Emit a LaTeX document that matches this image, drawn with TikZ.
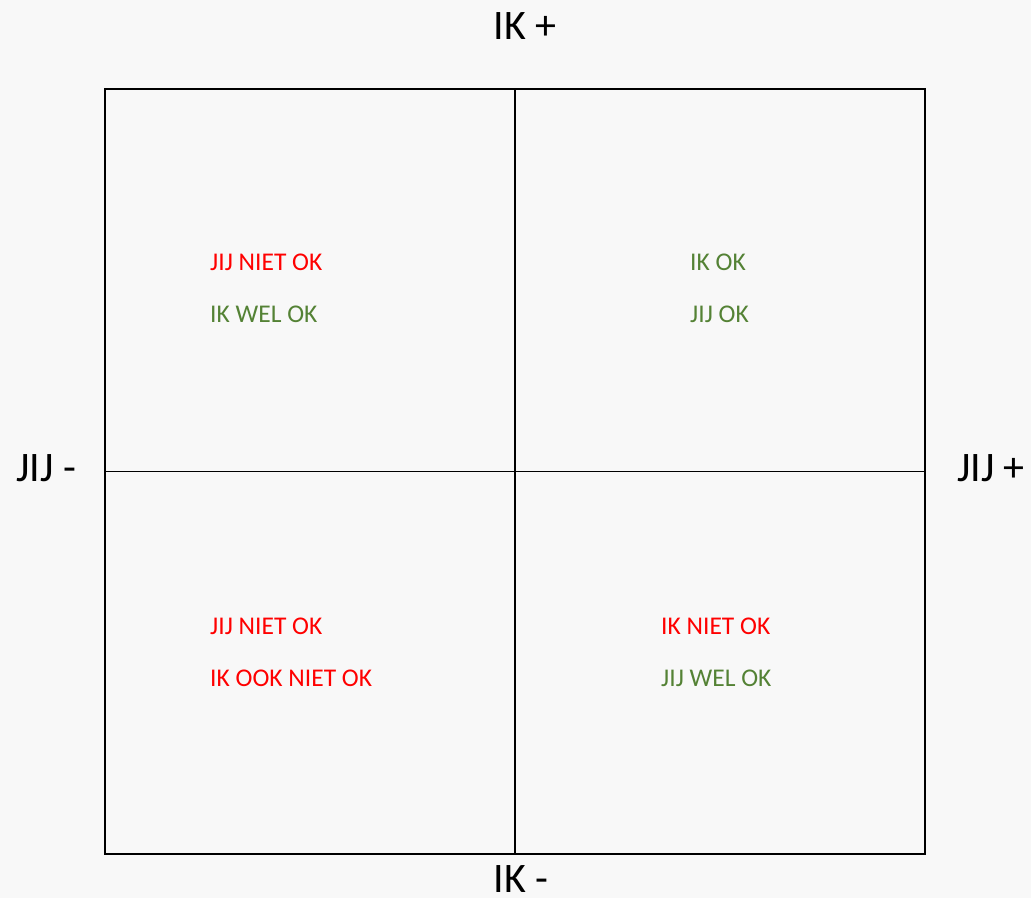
\documentclass[tikz,border=0pt]{standalone}
\usepackage{fontspec}
\setmainfont{Carlito}
\definecolor{notok}{HTML}{FF0000}
\definecolor{isok}{HTML}{548235}
\definecolor{paper}{HTML}{F8F8F8}
\begin{document}
\begin{tikzpicture}[x=1pt, y=-1pt,
    axis/.style={font=\fontsize{42}{46}\selectfont, inner sep=0pt},
    verdict/.style={font=\fontsize{25.5}{28}\selectfont, anchor=west, inner sep=0pt}]
    \fill[paper] (0,0) rectangle (1031,898);
    \useasboundingbox (0,0) rectangle (1031,898);
    % quadrant frame
    \node[draw, line width=1.5pt, minimum width=820pt, minimum height=765pt, inner sep=0pt] (frame) at (515,471.5) {};
    \draw[line width=1.5pt] (frame.north) -- (frame.south);
    \draw[line width=1.5pt] (frame.west) -- (frame.east);
    % axis labels
    \node[axis] (ikplus) at (525,26) {IK +};
    \node[axis] (ikmin) at (521,879) {IK -};
    \node[axis] (jijmin) at (46,468) {JIJ -};
    \node[axis] (jijplus) at (991,468) {JIJ +};
    % quadrant texts
    \node[verdict, text=notok] (q1a) at (210,262) {JIJ NIET OK};
    \node[verdict, text=isok] (q1b) at (210,314) {IK WEL OK};
    \node[verdict, text=isok] (q2a) at (690,262) {IK OK};
    \node[verdict, text=isok] (q2b) at (690,314) {JIJ OK};
    \node[verdict, text=notok] (q3a) at (210,626) {JIJ NIET OK};
    \node[verdict, text=notok] (q3b) at (210,678) {IK OOK NIET OK};
    \node[verdict, text=notok] (q4a) at (661,626) {IK NIET OK};
    \node[verdict, text=isok] (q4b) at (661,678) {JIJ WEL OK};
\end{tikzpicture}
\end{document}
